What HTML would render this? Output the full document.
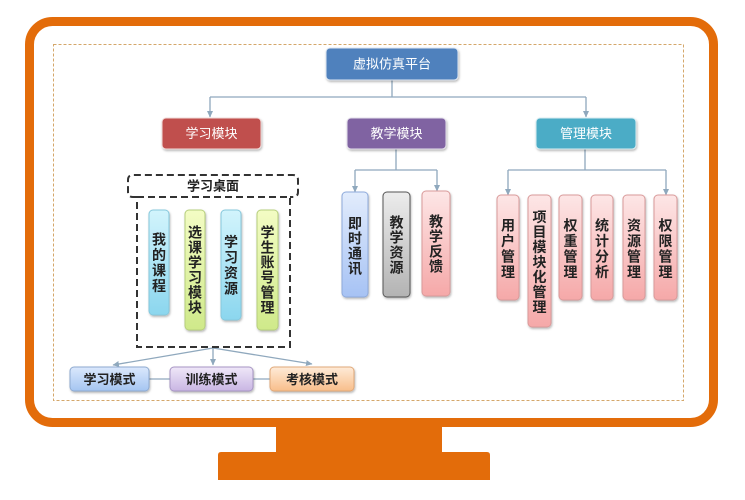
<!DOCTYPE html>
<html>
<head>
<meta charset="utf-8">
<style>
  html,body{margin:0;padding:0;background:#fff;}
  body{width:745px;height:500px;overflow:hidden;}
  svg{display:block;}
  text{font-family:"Liberation Sans","Noto Sans CJK SC",sans-serif;}
</style>
</head>
<body>
<svg width="745" height="500" viewBox="0 0 745 500" xmlns="http://www.w3.org/2000/svg">
  <defs>
    <filter id="sh" x="-20%" y="-20%" width="140%" height="150%">
      <feDropShadow dx="0.8" dy="1.5" stdDeviation="1" flood-color="#000" flood-opacity="0.28"/>
    </filter>
    <marker id="ar" markerWidth="7" markerHeight="7" refX="6" refY="3.5" orient="auto" markerUnits="userSpaceOnUse">
      <path d="M0,0.5 L6.5,3.5 L0,6.5 z" fill="#8fa8bd"/>
    </marker>
    <linearGradient id="gLB" x1="0" y1="0" x2="0" y2="1"><stop offset="0" stop-color="#d2f4fc"/><stop offset="1" stop-color="#8bd6ee"/></linearGradient>
    <linearGradient id="gLG" x1="0" y1="0" x2="0" y2="1"><stop offset="0" stop-color="#f3fcc4"/><stop offset="1" stop-color="#cfe98a"/></linearGradient>
    <linearGradient id="gBL" x1="0" y1="0" x2="0" y2="1"><stop offset="0" stop-color="#e2ecfc"/><stop offset="1" stop-color="#a6c2f4"/></linearGradient>
    <linearGradient id="gGR" x1="0" y1="0" x2="0" y2="1"><stop offset="0" stop-color="#ececec"/><stop offset="1" stop-color="#b3b3b3"/></linearGradient>
    <linearGradient id="gPK" x1="0" y1="0" x2="0" y2="1"><stop offset="0" stop-color="#fde6e6"/><stop offset="1" stop-color="#f5a8a8"/></linearGradient>
    <linearGradient id="gM1" x1="0" y1="0" x2="0" y2="1"><stop offset="0" stop-color="#dbe8fc"/><stop offset="1" stop-color="#a5c5f1"/></linearGradient>
    <linearGradient id="gM2" x1="0" y1="0" x2="0" y2="1"><stop offset="0" stop-color="#efe7f8"/><stop offset="1" stop-color="#c9b6e3"/></linearGradient>
    <linearGradient id="gM3" x1="0" y1="0" x2="0" y2="1"><stop offset="0" stop-color="#feebd8"/><stop offset="1" stop-color="#f8be8b"/></linearGradient>
  </defs>

  <!-- monitor frame -->
  <rect x="29.5" y="21.5" width="684" height="401" rx="23" ry="23" fill="#fff" stroke="#e36c0a" stroke-width="9"/>
  <!-- stand -->
  <rect x="276" y="426" width="166" height="27" fill="#e36c0a"/>
  <path d="M218 455 Q218 452 221 452 H487 Q490 452 490 455 V480 H218 Z" fill="#e36c0a"/>

  <!-- inner dashed border -->
  <rect x="53.5" y="44.5" width="630" height="356" fill="none" stroke="#d4a76a" stroke-width="1" stroke-dasharray="3,2"/>

  <!-- top connectors -->
  <g fill="none" stroke="#8fa8bd" stroke-width="1.3">
    <path d="M392 80 V97 M210 97 H586"/>
    <path d="M210 97 V117" marker-end="url(#ar)"/>
    <path d="M586 97 V117" marker-end="url(#ar)"/>
    <path d="M396 149 V170 M355 170 H437"/>
    <path d="M355 170 V192" marker-end="url(#ar)"/>
    <path d="M437 170 V191" marker-end="url(#ar)"/>
    <path d="M585 149 V170 M508 170 H666"/>
    <path d="M508 170 V195" marker-end="url(#ar)"/>
    <path d="M666 170 V195" marker-end="url(#ar)"/>
    <path d="M213 348 L113 365" marker-end="url(#ar)"/>
    <path d="M213 348 V365" marker-end="url(#ar)"/>
    <path d="M213 348 L312 364" marker-end="url(#ar)"/>
    <path d="M149 379 H170 M253 379 H270"/>
  </g>

  <!-- top nodes -->
  <g filter="url(#sh)">
    <rect x="326" y="48" width="132" height="32" rx="4" fill="#4f81bd" stroke="#dfe8f3" stroke-width="1"/>
    <rect x="162" y="118" width="99" height="31" rx="4" fill="#c0504d" stroke="#f2dcdb" stroke-width="1"/>
    <rect x="347" y="118" width="99" height="31" rx="4" fill="#8064a2" stroke="#e5e0ec" stroke-width="1"/>
    <rect x="536" y="118" width="100" height="31" rx="4" fill="#4bacc6" stroke="#dbeef3" stroke-width="1"/>
  </g>
  <g fill="#fff" font-size="13" text-anchor="middle" dominant-baseline="central">
    <text x="392" y="64">虚拟仿真平台</text>
    <text x="211.5" y="133.5">学习模块</text>
    <text x="396.5" y="133.5">教学模块</text>
    <text x="586" y="133.5">管理模块</text>
  </g>

  <!-- learning desktop dashed boxes -->
  <g fill="none" stroke="#333" stroke-width="2" stroke-dasharray="7,4">
    <path d="M137 197 H133 Q128 197 128 192 V180 Q128 175 133 175 H293 Q298 175 298 180 V192 Q298 197 293 197 H290"/>
    <path d="M137 197 H290 V347 H137 Z"/>
  </g>
  <text x="213" y="186" font-size="13" font-weight="bold" fill="#222" text-anchor="middle" dominant-baseline="central">学习桌面</text>

  <!-- vertical boxes -->
  <g filter="url(#sh)" stroke-width="1">
    <rect x="149" y="210" width="20" height="105" rx="4" fill="url(#gLB)" stroke="#86c8dc"/>
    <rect x="185" y="210" width="20" height="120" rx="4" fill="url(#gLG)" stroke="#b6cf7c"/>
    <rect x="221" y="210" width="20" height="110" rx="4" fill="url(#gLB)" stroke="#86c8dc"/>
    <rect x="257" y="210" width="21" height="120" rx="4" fill="url(#gLG)" stroke="#b6cf7c"/>

    <rect x="342" y="192" width="26" height="105" rx="4" fill="url(#gBL)" stroke="#8eaadb"/>
    <rect x="383" y="192" width="27" height="105" rx="4" fill="url(#gGR)" stroke="#555"/>
    <rect x="422" y="191" width="28" height="105" rx="4" fill="url(#gPK)" stroke="#d99a9a"/>

    <rect x="497" y="195" width="22" height="105" rx="4" fill="url(#gPK)" stroke="#d99a9a"/>
    <rect x="528" y="195" width="23" height="132" rx="4" fill="url(#gPK)" stroke="#d99a9a"/>
    <rect x="559" y="195" width="23" height="105" rx="4" fill="url(#gPK)" stroke="#d99a9a"/>
    <rect x="591" y="195" width="22" height="105" rx="4" fill="url(#gPK)" stroke="#d99a9a"/>
    <rect x="623" y="195" width="22" height="105" rx="4" fill="url(#gPK)" stroke="#d99a9a"/>
    <rect x="654" y="195" width="23" height="105" rx="4" fill="url(#gPK)" stroke="#d99a9a"/>

    <rect x="70" y="367" width="79" height="24" rx="4" fill="url(#gM1)" stroke="#8eaad0"/>
    <rect x="170" y="367" width="83" height="24" rx="4" fill="url(#gM2)" stroke="#a795c4"/>
    <rect x="270" y="367" width="84" height="24" rx="4" fill="url(#gM3)" stroke="#e0a878"/>
  </g>

  <g fill="#222" font-size="14" font-weight="bold" text-anchor="middle" dominant-baseline="central">
    <text><tspan x="159" y="239.25">我</tspan><tspan x="159" y="254.75">的</tspan><tspan x="159" y="270.25">课</tspan><tspan x="159" y="285.75">程</tspan></text>
    <text><tspan x="195" y="232.5">选</tspan><tspan x="195" y="247.5">课</tspan><tspan x="195" y="262.5">学</tspan><tspan x="195" y="277.5">习</tspan><tspan x="195" y="292.5">模</tspan><tspan x="195" y="307.5">块</tspan></text>
    <text><tspan x="231" y="241.75">学</tspan><tspan x="231" y="257.25">习</tspan><tspan x="231" y="272.75">资</tspan><tspan x="231" y="288.25">源</tspan></text>
    <text><tspan x="267.5" y="232.5">学</tspan><tspan x="267.5" y="247.5">生</tspan><tspan x="267.5" y="262.5">账</tspan><tspan x="267.5" y="277.5">号</tspan><tspan x="267.5" y="292.5">管</tspan><tspan x="267.5" y="307.5">理</tspan></text>

    <text><tspan x="355" y="223.5">即</tspan><tspan x="355" y="238.5">时</tspan><tspan x="355" y="253.5">通</tspan><tspan x="355" y="268.5">讯</tspan></text>
    <text><tspan x="396.5" y="222.5">教</tspan><tspan x="396.5" y="237.5">学</tspan><tspan x="396.5" y="252.5">资</tspan><tspan x="396.5" y="267.5">源</tspan></text>
    <text><tspan x="436" y="221.5">教</tspan><tspan x="436" y="236.5">学</tspan><tspan x="436" y="251.5">反</tspan><tspan x="436" y="266.5">馈</tspan></text>

    <text><tspan x="508" y="225.25">用</tspan><tspan x="508" y="240.75">户</tspan><tspan x="508" y="256.25">管</tspan><tspan x="508" y="271.75">理</tspan></text>
    <text><tspan x="539.5" y="217">项</tspan><tspan x="539.5" y="232">目</tspan><tspan x="539.5" y="247">模</tspan><tspan x="539.5" y="262">块</tspan><tspan x="539.5" y="277">化</tspan><tspan x="539.5" y="292">管</tspan><tspan x="539.5" y="307">理</tspan></text>
    <text><tspan x="570.5" y="225.25">权</tspan><tspan x="570.5" y="240.75">重</tspan><tspan x="570.5" y="256.25">管</tspan><tspan x="570.5" y="271.75">理</tspan></text>
    <text><tspan x="602" y="225.25">统</tspan><tspan x="602" y="240.75">计</tspan><tspan x="602" y="256.25">分</tspan><tspan x="602" y="271.75">析</tspan></text>
    <text><tspan x="634" y="225.25">资</tspan><tspan x="634" y="240.75">源</tspan><tspan x="634" y="256.25">管</tspan><tspan x="634" y="271.75">理</tspan></text>
    <text><tspan x="665.5" y="225.25">权</tspan><tspan x="665.5" y="240.75">限</tspan><tspan x="665.5" y="256.25">管</tspan><tspan x="665.5" y="271.75">理</tspan></text>
  </g>

  <g fill="#222" font-size="13" font-weight="bold" text-anchor="middle" dominant-baseline="central">
    <text x="109.5" y="379.5">学习模式</text>
    <text x="211.5" y="379.5">训练模式</text>
    <text x="312" y="379.5">考核模式</text>
  </g>
</svg>
</body>
</html>
